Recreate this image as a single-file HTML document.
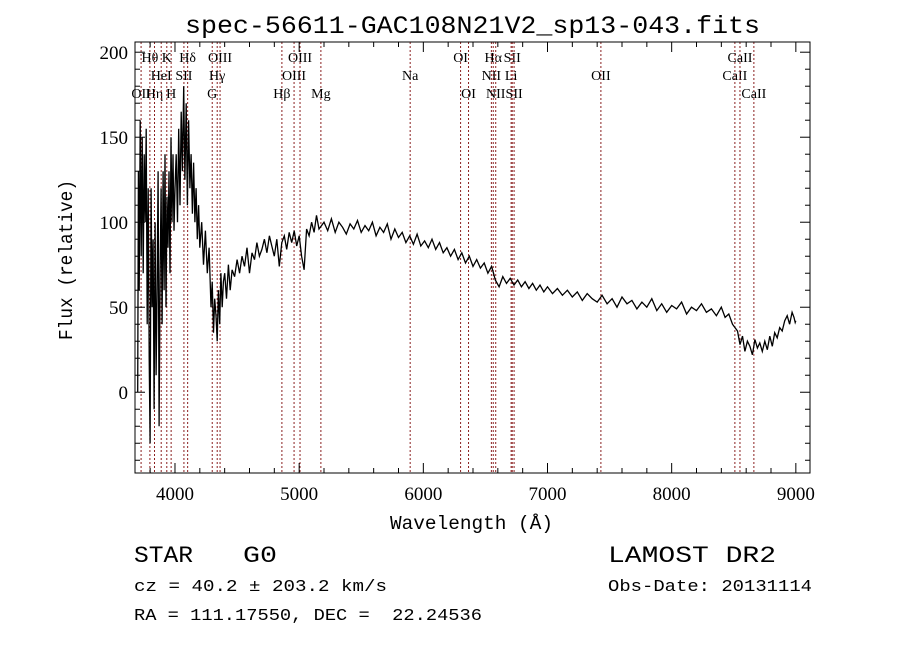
<!DOCTYPE html>
<html><head><meta charset="utf-8"><style>
body{margin:0;background:#fff;}
.serif{font-family:"Liberation Serif",serif;}
.mono{font-family:"Liberation Mono",monospace;}
</style></head><body>
<svg id="chart" width="900" height="649" viewBox="0 0 900 649" xmlns="http://www.w3.org/2000/svg">
<rect width="900" height="649" fill="#fff"/>
<text class="mono" x="185" y="33" font-size="25" textLength="575" lengthAdjust="spacingAndGlyphs">spec-56611-GAC108N21V2_sp13-043.fits</text>
<g id="lines"></g>
<g id="spec"></g>
<g id="axes"></g>
<text class="mono" x="390" y="529" font-size="19" textLength="163" lengthAdjust="spacingAndGlyphs">Wavelength (Å)</text>
<text class="mono" transform="translate(72,340) rotate(-90)" font-size="19" textLength="160" lengthAdjust="spacingAndGlyphs">Flux (relative)</text>
<text class="mono" x="134" y="562" font-size="23" textLength="59" lengthAdjust="spacingAndGlyphs">STAR</text>
<text class="mono" x="243" y="562" font-size="23" textLength="34" lengthAdjust="spacingAndGlyphs">G0</text>
<text class="mono" x="608" y="562" font-size="23" textLength="168" lengthAdjust="spacingAndGlyphs">LAMOST DR2</text>
<text class="mono" x="134" y="591" font-size="17" textLength="253" lengthAdjust="spacingAndGlyphs">cz = 40.2 ± 203.2 km/s</text>
<text class="mono" x="608" y="591" font-size="17" textLength="204" lengthAdjust="spacingAndGlyphs">Obs-Date: 20131114</text>
<text class="mono" x="134" y="620" font-size="17" textLength="348" lengthAdjust="spacingAndGlyphs" xml:space="preserve">RA = 111.17550, DEC =  22.24536</text>
</svg>
<script>
const waves=[3700,3705,3712,3720,3728,3736,3744,3752,3760,3768,3776,3784,3792,3800,3808,3816,3824,3832,3840,3848,3856,3864,3872,3880,3888,3896,3904,3912,3920,3928,3936,3944,3952,3960,3968,3976,3984,3992,4000,4010,4020,4030,4040,4050,4060,4070,4080,4090,4100,4110,4120,4130,4140,4150,4160,4170,4180,4190,4200,4215,4230,4245,4260,4275,4290,4300,4310,4320,4330,4340,4350,4360,4370,4380,4390,4400,4415,4430,4445,4460,4480,4500,4520,4540,4560,4580,4600,4620,4640,4660,4680,4700,4720,4740,4760,4780,4800,4820,4840,4860,4880,4900,4920,4940,4960,4980,5000,5020,5040,5060,5080,5100,5120,5140,5160,5180,5200,5230,5260,5290,5320,5350,5380,5410,5440,5470,5500,5530,5560,5590,5620,5650,5680,5710,5740,5770,5800,5830,5860,5890,5920,5950,5980,6010,6040,6070,6100,6130,6160,6190,6220,6250,6280,6310,6340,6370,6400,6430,6460,6490,6520,6550,6565,6580,6610,6640,6670,6700,6730,6760,6790,6820,6850,6880,6910,6940,6970,7000,7040,7080,7120,7160,7200,7240,7280,7320,7360,7400,7440,7480,7520,7560,7600,7640,7680,7720,7760,7800,7840,7880,7920,7960,8000,8040,8080,8120,8160,8200,8240,8280,8320,8360,8400,8430,8460,8490,8510,8530,8550,8570,8590,8610,8630,8650,8670,8690,8710,8730,8750,8770,8790,8810,8830,8850,8870,8890,8910,8930,8950,8970,8985,8995,9000];
const flux=[0,130,60,160,80,150,70,140,100,155,40,120,20,-30,120,50,90,-10,100,10,60,130,-20,70,120,40,130,60,140,50,115,85,130,70,150,100,140,95,120,140,100,155,110,165,130,180,125,170,110,160,120,140,105,135,100,120,90,110,85,100,75,95,70,85,50,65,35,55,45,30,60,40,70,50,65,70,55,75,60,72,68,78,70,80,74,85,70,82,78,88,80,84,90,82,92,86,80,90,74,88,92,84,94,88,95,86,92,80,72,96,92,100,94,104,96,98,100,95,102,94,100,97,93,99,96,101,94,98,95,100,92,97,94,99,90,96,91,94,88,92,87,93,86,89,85,90,84,88,82,85,80,84,78,82,76,80,74,78,73,76,70,74,70,66,62,68,64,67,63,66,62,65,61,64,60,63,59,62,58,61,57,60,56,59,54,58,55,53,57,52,55,50,56,52,54,49,53,50,55,48,52,47,51,49,53,46,50,48,52,47,49,45,50,44,46,40,38,36,28,33,24,30,27,22,31,26,29,24,30,25,33,27,35,32,38,36,42,45,40,47,44,41,42,20,5];
const lineWaves=[3727,3798,3835,3889,3934,3969,4072,4102,4300,4340,4363,4861,4959,5007,5175,5894,6300,6364,6548,6563,6583,6707,6716,6731,7430,8509,8550,8662];
const labelTexts=["OII","Hθ","Hη","HeI","K","H","SII","Hδ","G","Hγ","OIII","Hβ","OIII","OIII","Mg","Na","OI","OI","NII","Hα","NII","Li","SII","SII","OII","CaII","CaII","CaII"];
const labelRows=[2,0,2,1,0,2,1,0,2,1,0,2,1,0,2,1,0,2,1,0,2,1,0,2,1,1,0,2];
const xTicks=[4000,5000,6000,7000,8000,9000];
const yTicks=[0,50,100,150,200];
const X0=135,X1=810,Y0=42,Y1=473;
const xmin=3678,xmax=9114,ymin=-47.5,ymax=206;
const sx=w=>X0+(w-xmin)/(xmax-xmin)*(X1-X0);
const sy=v=>Y1-(v-ymin)/(ymax-ymin)*(Y1-Y0);
const NS="http://www.w3.org/2000/svg";
function mk(tag,attrs,parent){const e=document.createElementNS(NS,tag);for(const k in attrs)e.setAttribute(k,attrs[k]);parent.appendChild(e);return e;}
const gl=document.getElementById('lines');
lineWaves.forEach((w,i)=>{
  const l=mk('line',{x1:sx(w),x2:sx(w),y1:Y0,y2:Y1,stroke:'#8b2020','stroke-width':1,'stroke-dasharray':'2,2'},gl);
  
  
  const t=mk('text',{x:sx(w),y:62+labelRows[i]*18,'font-size':14,'text-anchor':'middle','class':'serif'},gl);
  t.textContent=labelTexts[i];
  
  
});
const gs=document.getElementById('spec');
const p=mk('polyline',{points:waves.map((w,i)=>sx(w).toFixed(1)+','+sy(flux[i]).toFixed(1)).join(' '),fill:'none',stroke:'#000','stroke-width':1.3},gs);


const ga=document.getElementById('axes');
const fr=mk('rect',{x:X0,y:Y0,width:X1-X0,height:Y1-Y0,fill:'none',stroke:'#000','stroke-width':1},ga);


for(let w=3800;w<=9100;w+=200){const maj=w%1000===0,L=maj?10:5;
  mk('line',{x1:sx(w),x2:sx(w),y1:Y1,y2:Y1-L,stroke:'#000'},ga);
  mk('line',{x1:sx(w),x2:sx(w),y1:Y0,y2:Y0+L,stroke:'#000'},ga);}
for(let v=-40;v<=200;v+=10){const maj=v%50===0,L=maj?10:5;
  mk('line',{x1:X0,x2:X0+L,y1:sy(v),y2:sy(v),stroke:'#000'},ga);
  mk('line',{x1:X1,x2:X1-L,y1:sy(v),y2:sy(v),stroke:'#000'},ga);}
xTicks.forEach(w=>{const t=mk('text',{x:sx(w),y:Y1+27,'font-size':19,'text-anchor':'middle','class':'serif'},ga);t.textContent=w;
  
  });
yTicks.forEach(v=>{const t=mk('text',{x:X0-7,y:sy(v)+7,'font-size':19,'text-anchor':'end','class':'serif'},ga);t.textContent=v;
  
  });
</script>
</body></html>
